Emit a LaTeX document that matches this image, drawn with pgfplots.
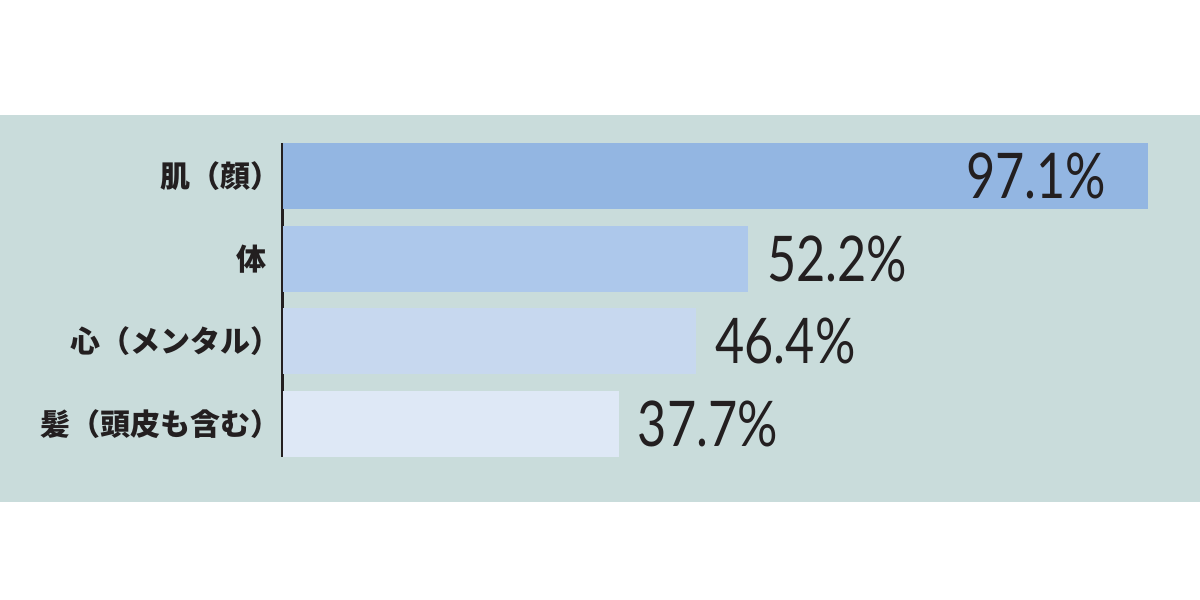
\documentclass[border=0pt]{standalone}
\usepackage{fontspec}
\usepackage{graphicx}
\usepackage{pgfplots}
\pgfplotsset{compat=1.18}
\newfontfamily\cjk{Noto Sans CJK JP}
\newfontfamily\numfont{Lato}
\definecolor{band}{HTML}{C9DCDB}
\definecolor{barA}{HTML}{93B6E2}
\definecolor{barB}{HTML}{ADC8EB}
\definecolor{barC}{HTML}{C7D8EF}
\definecolor{barD}{HTML}{DEE8F6}
\definecolor{ink}{HTML}{231F20}
\newcommand{\num}[1]{{\numfont\fontsize{31.5}{31.5}\selectfont\scalebox{0.8}[1]{#1}}}
\begin{document}
\begin{tikzpicture}
\useasboundingbox (0,0) rectangle (600pt,300pt);
\fill[white] (0,0) rectangle (600pt,300pt);
\fill[band] (0,49pt) rectangle (600pt,242.5pt);
\begin{axis}[
  at={(141.5pt,71.5pt)}, anchor=south west,
  scale only axis, width=445.5pt, height=157pt,
  xbar, bar width=33pt, bar shift=0pt,
  xmin=0, xmax=100, ymin=-0.4, ymax=3.4, y dir=reverse,
  axis x line=none, axis y line=left,
  y axis line style={line width=1.5pt, draw=ink, -},
  xtick=\empty,
  ytick={0,1,2,3},
  yticklabels={肌（顔）,体\hspace*{7pt},心（メンタル）,髪（頭皮も含む）},
  major tick length=0pt,
  yticklabel style={font=\cjk\bfseries\fontsize{15}{15}\selectfont, text=ink, anchor=east, xshift=2.5pt},
  nodes near coords style={text=ink, anchor=west, xshift=6pt},
  clip=false,
]
\addplot[fill=barA, draw=none, nodes near coords={\num{97.1\%}}, nodes near coords style={anchor=east, xshift=-23.5pt}] coordinates {(97.1,0)};
\addplot[fill=barB, draw=none, nodes near coords={\num{52.2\%}}] coordinates {(52.2,1)};
\addplot[fill=barC, draw=none, nodes near coords={\num{46.4\%}}] coordinates {(46.4,2)};
\addplot[fill=barD, draw=none, nodes near coords={\num{37.7\%}}] coordinates {(37.7,3)};
\end{axis}
\end{tikzpicture}
\end{document}
